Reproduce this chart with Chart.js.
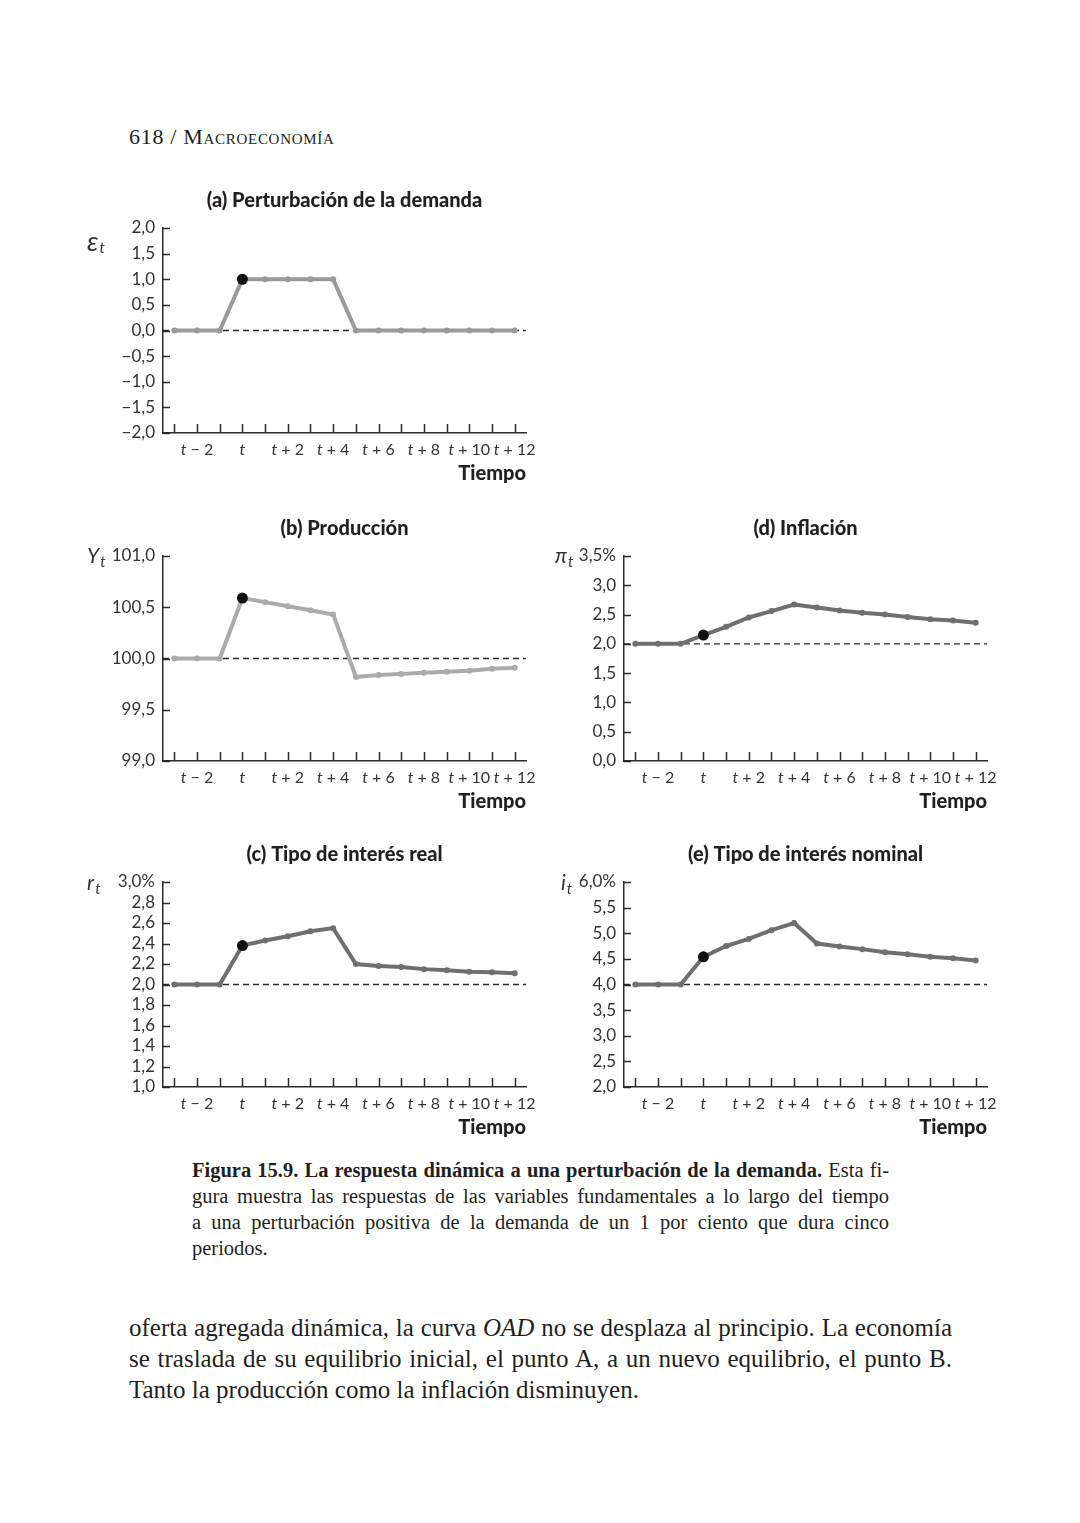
<!DOCTYPE html>
<html>
<head>
<meta charset="utf-8">
<script src="https://cdn.jsdelivr.net/npm/chart.js@4.4.0/dist/chart.umd.min.js"></script>
<style>
  body { margin: 0; background: #fff; width: 1080px; height: 1523px; position: relative; overflow: hidden;
         color: #231f20; font-family: "Liberation Serif", serif; }
  canvas { position: absolute; }
  .header { position: absolute; left: 129px; top: 125px; font-size: 22px; line-height: 24px; letter-spacing: 0.7px; }
  .header span { font-variant: small-caps; }
  .caption { position: absolute; left: 192px; top: 1157px; width: 697px; font-size: 20.5px; line-height: 26px; }
  .body { position: absolute; left: 129px; top: 1312px; width: 823px; font-size: 25px; line-height: 31px; }
  .j { text-align: justify; text-align-last: justify; white-space: nowrap; }
</style>
</head>
<body>
<div class="header">618 / <span>Macroeconomía</span></div>

<canvas id="chartA" width="496" height="325" style="left:60px;top:168px"></canvas>
<canvas id="chartB" width="496" height="325" style="left:60px;top:496px"></canvas>
<canvas id="chartC" width="496" height="325" style="left:60px;top:822px"></canvas>
<canvas id="chartD" width="487" height="325" style="left:530px;top:496px"></canvas>
<canvas id="chartE" width="487" height="325" style="left:530px;top:822px"></canvas>

<div class="caption">
  <div class="j"><b>Figura 15.9. La respuesta dinámica a una perturbación de la demanda.</b> Esta fi-</div>
  <div class="j">gura muestra las respuestas de las variables fundamentales a lo largo del tiempo</div>
  <div class="j">a una perturbación positiva de la demanda de un 1 por ciento que dura cinco</div>
  <div>periodos.</div>
</div>

<div class="body">
  <div class="j">oferta agregada dinámica, la curva <i>OAD</i> no se desplaza al principio. La economía</div>
  <div class="j">se traslada de su equilibrio inicial, el punto A, a un nuevo equilibrio, el punto B.</div>
  <div>Tanto la producción como la inflación disminuyen.</div>
</div>

<script>
// periods shown on the x axis
const periods = ['t−3', 't−2', 't−1', 't', 't+1', 't+2', 't+3', 't+4', 't+5',
                 't+6', 't+7', 't+8', 't+9', 't+10', 't+11', 't+12'];
const shownTicks = ['t−2', 't', 't+2', 't+4', 't+6', 't+8', 't+10', 't+12'];
const shockPeriod = 't';

// series
const shock       = [0, 0, 0, 1, 1, 1, 1, 1, 0, 0, 0, 0, 0, 0, 0, 0];
const output      = [100, 100, 100, 100.59, 100.55, 100.51, 100.47, 100.43, 99.82, 99.84, 99.85, 99.86, 99.87, 99.88, 99.90, 99.91];
const inflation   = [2, 2, 2, 2.15, 2.29, 2.45, 2.56, 2.67, 2.62, 2.57, 2.53, 2.50, 2.46, 2.42, 2.40, 2.36];
const realRate    = [2, 2, 2, 2.38, 2.43, 2.47, 2.52, 2.55, 2.20, 2.18, 2.17, 2.15, 2.14, 2.125, 2.12, 2.11];
const nominalRate = [4, 4, 4, 4.54, 4.75, 4.89, 5.06, 5.20, 4.80, 4.74, 4.69, 4.63, 4.59, 4.54, 4.51, 4.47];

// y axis ranges: [min, max, step] and the dashed baseline
const shockAxis = [-2, 2, 0.5];
const outputAxis = [99, 101, 0.5];
const inflationAxis = [0, 3.5, 0.5];
const realAxis = [1, 3, 0.2];
const nominalAxis = [2, 6, 0.5];
const baselines = { shock: 0, output: 100, inflation: 2, real: 2, nominal: 4 };

Chart.defaults.font.family = 'Lato, "Open Sans", sans-serif';
Chart.defaults.color = '#333';

const INK = '#2b2b2b';

function fmt(v) {
  return v.toFixed(1).replace('.', ',').replace('-', '−');
}

const decorations = {
  id: 'decorations',
  beforeDatasetsDraw(chart, args, opts) {
    const { ctx, chartArea: a, scales: { x, y } } = chart;
    ctx.save();
    // dashed reference line
    const yb = y.getPixelForValue(opts.baseline);
    ctx.strokeStyle = INK;
    ctx.lineWidth = 1.3;
    ctx.setLineDash([6, 4]);
    ctx.beginPath();
    ctx.moveTo(a.left, yb);
    ctx.lineTo(a.right, yb);
    ctx.stroke();
    ctx.setLineDash([]);
    // tick marks pointing inwards
    ctx.lineWidth = 1.5;
    ctx.beginPath();
    periods.forEach((p, i) => {
      const px = Math.round(x.getPixelForValue(i)) + 0.5;
      ctx.moveTo(px, a.bottom);
      ctx.lineTo(px, a.bottom - 9);
    });
    y.ticks.forEach((t, i) => {
      const py = Math.round(y.getPixelForTick(i)) + 0.5;
      ctx.moveTo(a.left, py);
      ctx.lineTo(a.left + 7, py);
    });
    ctx.stroke();
    ctx.restore();
  },
  afterDraw(chart, args, opts) {
    const { ctx, chartArea: a, scales: { x } } = chart;
    ctx.save();
    ctx.fillStyle = '#231f20';

    // panel title
    ctx.font = '900 20px Lato, sans-serif';
    ctx.textAlign = 'center';
    ctx.textBaseline = 'middle';
    ctx.fillText(opts.title, (a.left + a.right) / 2, a.top - 27);

    // x tick labels, italic t
    ctx.fillStyle = '#333';
    shownTicks.forEach(lbl => {
      const i = periods.indexOf(lbl);
      const px = x.getPixelForValue(i);
      const rest = lbl.length > 1 ? ' ' + lbl[1] + ' ' + lbl.slice(2) : '';
      ctx.font = 'italic 16px Lato, sans-serif';
      const w1 = ctx.measureText('t').width;
      ctx.font = '16px Lato, sans-serif';
      const w2 = ctx.measureText(rest).width;
      const sx = px - (w1 + w2) / 2;
      ctx.textAlign = 'left';
      ctx.font = 'italic 16px Lato, sans-serif';
      ctx.fillText('t', sx, a.bottom + 17);
      ctx.font = '16px Lato, sans-serif';
      ctx.fillText(rest, sx + w1, a.bottom + 17);
    });

    // axis name
    ctx.fillStyle = '#231f20';
    ctx.font = '900 20px Lato, sans-serif';
    ctx.textAlign = 'right';
    ctx.fillText('Tiempo', a.right, a.bottom + 41);

    // variable symbol with subscript t
    ctx.textAlign = 'left';
    ctx.fillStyle = '#333';
    ctx.font = 'italic ' + opts.symbolSize + 'px Lato, sans-serif';
    const vx = a.left + opts.symbolDx, vy = a.top + opts.symbolDy;
    ctx.fillText(opts.symbol, vx, vy);
    const sw = ctx.measureText(opts.symbol).width;
    ctx.font = 'italic 15px Lato, sans-serif';
    ctx.fillText('t', vx + sw + 1, vy + 6);
    ctx.restore();
  }
};

function makePanel(id, values, axis, color, cfg) {
  const hi = periods.indexOf(shockPeriod);
  return new Chart(document.getElementById(id), {
    type: 'line',
    data: {
      labels: periods,
      datasets: [{
        data: values,
        borderColor: color,
        backgroundColor: color,
        borderWidth: 4,
        tension: 0,
        pointRadius: ctx => ctx.dataIndex === hi ? 5.5 : 3,
        pointBackgroundColor: ctx => ctx.dataIndex === hi ? '#111' : color,
        pointBorderWidth: 0,
        clip: false
      }]
    },
    options: {
      responsive: false,
      animation: false,
      layout: { padding: { top: 60, right: 30, left: 0, bottom: 0 } },
      plugins: {
        legend: { display: false },
        tooltip: { enabled: false },
        decorations: cfg
      },
      scales: {
        x: {
          type: 'category',
          offset: true,
          grid: { display: false },
          border: { display: true, color: INK, width: 1.5 },
          ticks: { display: false },
          afterFit(scale) { scale.height = 60; }
        },
        y: {
          min: axis[0],
          max: axis[1],
          grid: { display: false, drawTicks: false },
          border: { display: true, color: INK, width: 1.5 },
          ticks: {
            stepSize: axis[2],
            autoSkip: false,
            padding: 8,
            font: { size: 17 },
            color: '#333',
            callback: v => fmt(v) + (cfg.percent && Math.abs(v - axis[1]) < 1e-9 ? '%' : '')
          },
          afterFit(scale) { scale.width = cfg.axisWidth; }
        }
      }
    },
    plugins: [decorations]
  });
}

makePanel('chartA', shock, shockAxis, '#9a9a9a', {
  title: '(a) Perturbación de la demanda', baseline: baselines.shock, axisWidth: 103,
  symbol: 'ε', symbolSize: 27, symbolDx: -76, symbolDy: 14, percent: false
});
makePanel('chartB', output, outputAxis, '#ababab', {
  title: '(b) Producción', baseline: baselines.output, axisWidth: 103,
  symbol: 'Y', symbolSize: 21, symbolDx: -76, symbolDy: 0, percent: false
});
makePanel('chartC', realRate, realAxis, '#6f6f6f', {
  title: '(c) Tipo de interés real', baseline: baselines.real, axisWidth: 103,
  symbol: 'r', symbolSize: 21, symbolDx: -76, symbolDy: 1, percent: true
});
makePanel('chartD', inflation, inflationAxis, '#6f6f6f', {
  title: '(d) Inflación', baseline: baselines.inflation, axisWidth: 94,
  symbol: 'π', symbolSize: 21, symbolDx: -69, symbolDy: 0, percent: true
});
makePanel('chartE', nominalRate, nominalAxis, '#6f6f6f', {
  title: '(e) Tipo de interés nominal', baseline: baselines.nominal, axisWidth: 94,
  symbol: 'i', symbolSize: 21, symbolDx: -63, symbolDy: 1, percent: true
});
</script>
</body>
</html>
